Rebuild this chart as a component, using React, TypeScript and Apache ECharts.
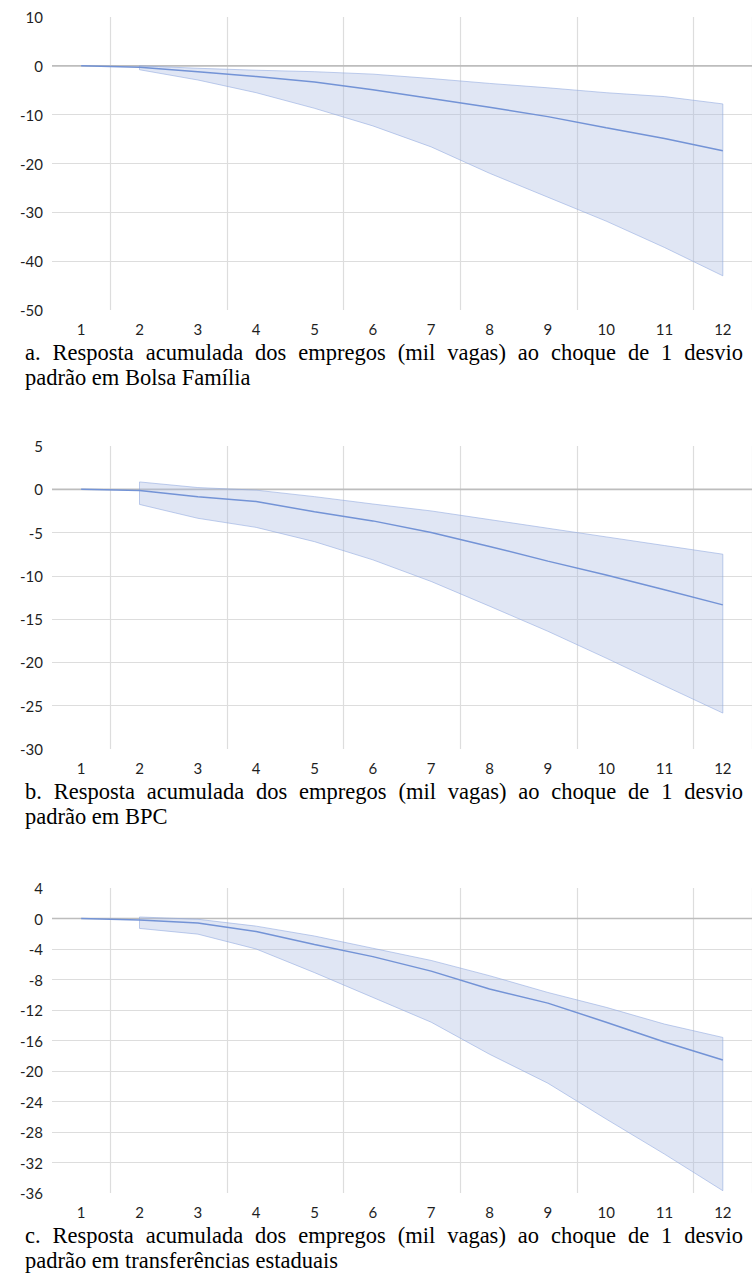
import React, { useEffect, useRef } from "react";
import * as echarts from "echarts";

// ---------- data ----------
const categories = ["1", "2", "3", "4", "5", "6", "7", "8", "9", "10", "11", "12"];

const meanA = [0, -0.3, -1.2, -2.2, -3.3, -4.9, -6.7, -8.5, -10.4, -12.7, -14.9, -17.4];
const upperA = [null, 0, -0.5, -0.9, -1.2, -1.7, -2.6, -3.6, -4.5, -5.5, -6.3, -7.8];
const lowerA = [null, -0.8, -2.9, -5.5, -8.7, -12.3, -16.6, -22.0, -26.9, -31.8, -37.2, -43.0];
const yTicksA = [-50, -40, -30, -20, -10, 0, 10];

const meanB = [0, -0.15, -0.85, -1.4, -2.6, -3.65, -5.0, -6.6, -8.3, -9.9, -11.6, -13.35];
const upperB = [null, 0.85, 0.2, -0.1, -0.85, -1.7, -2.5, -3.5, -4.5, -5.5, -6.5, -7.5];
const lowerB = [null, -1.75, -3.35, -4.4, -6.05, -8.15, -10.65, -13.5, -16.4, -19.5, -22.7, -25.85];
const yTicksB = [-30, -25, -20, -15, -10, -5, 0, 5];

const meanC = [0, -0.2, -0.6, -1.7, -3.4, -5.0, -6.9, -9.25, -11.1, -13.6, -16.2, -18.55];
const upperC = [null, 0.2, -0.1, -1.0, -2.3, -3.9, -5.5, -7.5, -9.7, -11.65, -13.85, -15.6];
const lowerC = [null, -1.3, -2.05, -4.0, -7.1, -10.35, -13.6, -17.8, -21.6, -26.3, -30.9, -35.7];
const yTicksC = [-36, -32, -28, -24, -20, -16, -12, -8, -4, 0, 4];

const captionA = ["a. Resposta acumulada dos empregos (mil vagas) ao choque de 1 desvio", "padrão em Bolsa Família"];
const captionB = ["b. Resposta acumulada dos empregos (mil vagas) ao choque de 1 desvio", "padrão em BPC"];
const captionC = ["c. Resposta acumulada dos empregos (mil vagas) ao choque de 1 desvio", "padrão em transferências estaduais"];

// ---------- layout ----------
const W = 752;
const H = 1276;
const gridTops = [17, 446, 888];
const gridHeights = [293, 303, 305];
const plotLeft = 52;
const plotRightOverflow = -6;
const captionLeft = 25;
const captionRight = 743;
const cap1Offset = 42;
const cap2Offset = 67;

const tickFont = "Lato";
const tickSize = 15;
const tickColor = "#1f1f1f";
const lineColor = "#7393d6";
const bandFill = "rgba(169,186,224,0.36)";
const bandStroke = "rgba(140,166,222,0.55)";
const gridColor = "#dddddd";
const zeroColor = "#bdbdbd";
const captionFont = "22.5px 'Liberation Serif', 'Times New Roman', serif";

const panels = [
  { mean: meanA, upper: upperA, lower: lowerA, ticks: yTicksA, caption: captionA },
  { mean: meanB, upper: upperB, lower: lowerB, ticks: yTicksB, caption: captionB },
  { mean: meanC, upper: upperC, lower: lowerC, ticks: yTicksC, caption: captionC },
];

export default function App() {
  const ref = useRef<HTMLDivElement>(null);

  useEffect(() => {
    const el = ref.current!;
    const chart = echarts.init(el, null, { renderer: "svg", width: W, height: H });

    const grid = panels.map((_, i) => ({
      left: plotLeft,
      right: plotRightOverflow,
      top: gridTops[i],
      height: gridHeights[i],
      containLabel: false,
    }));

    const xAxis = panels.map((_, i) => ({
      type: "category",
      gridIndex: i,
      data: categories,
      boundaryGap: true,
      axisLine: { show: false, onZero: false },
      axisTick: { show: false },
      axisLabel: { margin: 11, fontFamily: tickFont, fontSize: tickSize, color: tickColor },
      splitLine: {
        show: true,
        interval: (idx: number) => idx % 2 === 1,
        lineStyle: { color: gridColor, width: 1.2 },
      },
    }));

    const yAxis = panels.map((p, i) => {
      const t = p.ticks;
      const colors = t.map((_, k) => (k === 0 || k === t.length - 1 || t[k] === 0 ? "rgba(0,0,0,0)" : gridColor));
      return {
        type: "value",
        gridIndex: i,
        min: t[0],
        max: t[t.length - 1],
        interval: t[1] - t[0],
        axisLine: { show: false },
        axisTick: { show: false },
        axisLabel: { margin: 9, fontFamily: tickFont, fontSize: tickSize, color: tickColor },
        splitLine: { show: true, lineStyle: { color: colors, width: 1.2 } },
      };
    });

    const series: any[] = [];
    panels.forEach((p, i) => {
      series.push({
        type: "custom",
        xAxisIndex: i,
        yAxisIndex: i,
        silent: true,
        z: 2,
        data: [[0, 0]],
        renderItem: (params: any, api: any) => {
          const cs = params.coordSys;
          const zeroY = api.coord([0, 0])[1];
          const top: number[][] = [];
          const bottom: number[][] = [];
          p.upper.forEach((v, k) => {
            if (v !== null) top.push(api.coord([k, v]));
          });
          p.lower.forEach((v, k) => {
            if (v !== null) bottom.push(api.coord([k, v]));
          });
          const pts = top.concat(bottom.reverse());
          return {
            type: "group",
            children: [
              {
                type: "line",
                shape: { x1: cs.x, y1: zeroY, x2: cs.x + cs.width, y2: zeroY },
                style: { stroke: zeroColor, lineWidth: 1.7 },
              },
              {
                type: "polygon",
                shape: { points: pts },
                style: { fill: bandFill, stroke: bandStroke, lineWidth: 1 },
              },
            ],
          };
        },
      });
      series.push({
        type: "line",
        xAxisIndex: i,
        yAxisIndex: i,
        data: p.mean,
        symbol: "none",
        silent: true,
        z: 3,
        lineStyle: { color: lineColor, width: 1.5 },
      });
    });

    const graphic: any[] = [];
    panels.forEach((p, i) => {
      const bottom = gridTops[i] + gridHeights[i];
      graphic.push({
        type: "text",
        x: captionLeft,
        y: bottom + cap1Offset,
        silent: true,
        style: { text: p.caption[0], font: captionFont, fill: "#000", verticalAlign: "middle", align: "left" },
      });
      graphic.push({
        type: "text",
        x: captionLeft,
        y: bottom + cap2Offset,
        silent: true,
        style: { text: p.caption[1], font: captionFont, fill: "#000", verticalAlign: "middle", align: "left" },
      });
    });

    chart.setOption({
      animation: false,
      grid,
      xAxis,
      yAxis,
      series,
      graphic,
    });

    const justify = panels.map((p) => p.caption[0]);
    const adjust = () => {
      el.querySelectorAll("text").forEach((t) => {
        const s = t.textContent || "";
        if (justify.includes(s)) {
          t.removeAttribute("word-spacing");
          const w = (t as SVGTextElement).getComputedTextLength();
          const spaces = s.split(" ").length - 1;
          const ws = (captionRight - captionLeft - w) / spaces;
          if (ws > 0) t.setAttribute("word-spacing", String(ws));
        }
      });
    };
    chart.on("finished", adjust);
    const timer = setTimeout(adjust, 30);
    adjust();

    return () => {
      clearTimeout(timer);
      chart.dispose();
    };
  }, []);

  return <div ref={ref} style={{ position: "absolute", left: 0, top: 0, width: W, height: H }} />;
}
